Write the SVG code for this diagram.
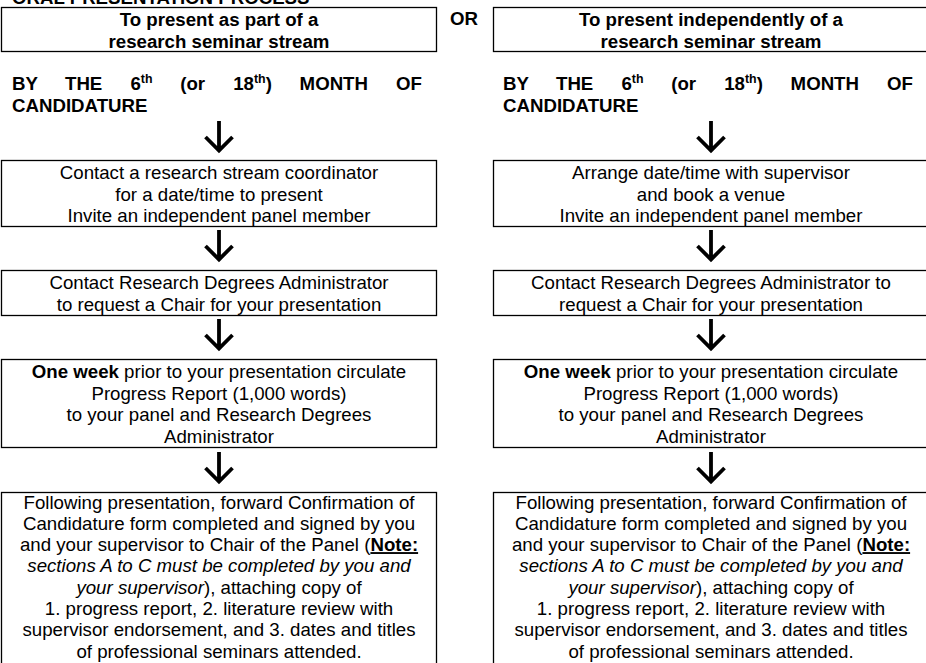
<svg xmlns="http://www.w3.org/2000/svg" width="926" height="663" viewBox="0 0 926 663">
<style>
text{font-family:"Liberation Sans",Arial,sans-serif;font-size:18.67px;fill:#000}
.c{text-anchor:middle}
.b{font-weight:bold}
.i{font-style:italic}
.u{text-decoration:underline}
.sup{font-size:12.4px;font-weight:bold}
rect.box{fill:#fff;stroke:#000;stroke-width:1.3}
.arr{fill:none;stroke:#000;stroke-width:3.8;stroke-linejoin:miter;stroke-linecap:butt}
</style>
<defs>
<g id="arrowShape"><path class="arr" d="M0,-30 V-1 M-13.5,-14 L0,-0.5 L13.5,-14"/></g>
</defs>
<rect width="926" height="663" fill="#fff"/>
<text id="title" class="b" x="12" y="3.5">ORAL PRESENTATION PROCESS</text>
<text id="or" class="b" x="450" y="25">OR</text>

<g id="left-head">
<rect class="box" x="1.5" y="7.5" width="435" height="44"/>
<text class="b c" x="219" y="26">To present as part of a</text>
<text class="b c" x="219" y="47.5">research seminar stream</text>
</g>
<g id="left-deadline">
<text class="b" x="12" y="90">BY</text>
<text class="b" x="65" y="90">THE</text>
<text class="b" x="130.4" y="90">6<tspan class="sup" dy="-7">th</tspan></text>
<text class="b" x="180.2" y="90">(or</text>
<text class="b" x="233.2" y="90">18<tspan class="sup" dy="-7">th</tspan><tspan dy="7">)</tspan></text>
<text class="b" x="299.6" y="90">MONTH</text>
<text class="b" x="396.1" y="90">OF</text>
<text class="b" x="12" y="111.5">CANDIDATURE</text>
</g>
<g id="left-step1">
<rect class="box" x="1.5" y="160.5" width="435" height="66"/>
<text class="c" x="219" y="179">Contact a research stream coordinator</text>
<text class="c" x="219" y="200.5">for a date/time to present</text>
<text class="c" x="219" y="222">Invite an independent panel member</text>
</g>
<g id="left-step2">
<rect class="box" x="1.5" y="270.5" width="435" height="45"/>
<text class="c" x="219" y="289">Contact Research Degrees Administrator</text>
<text class="c" x="219" y="310.5">to request a Chair for your presentation</text>
</g>
<g id="left-step3">
<rect class="box" x="1.5" y="359.5" width="435" height="88"/>
<text class="c" x="219" y="378"><tspan class="b">One week</tspan> prior to your presentation circulate</text>
<text class="c" x="219" y="399.5">Progress Report (1,000 words)</text>
<text class="c" x="219" y="421">to your panel and Research Degrees</text>
<text class="c" x="219" y="442.5">Administrator</text>
</g>
<g id="left-step4">
<rect class="box" x="1.5" y="492.5" width="435" height="175"/>
<text class="c" x="219" y="508.5">Following presentation, forward Confirmation of</text>
<text class="c" x="219" y="529.8">Candidature form completed and signed by you</text>
<text class="c" x="219" y="551.1">and your supervisor to Chair of the Panel (<tspan class="b u">Note:</tspan></text>
<text class="c i" x="219" y="572.4">sections A to C must be completed by you and</text>
<text class="c" x="219" y="593.7"><tspan class="i">your supervisor</tspan>), attaching copy of</text>
<text class="c" x="219" y="615">1. progress report, 2. literature review with</text>
<text class="c" x="219" y="636.3">supervisor endorsement, and 3. dates and titles</text>
<text class="c" x="219" y="657.6">of professional seminars attended.</text>
</g>

<g id="right-head">
<rect class="box" x="493.5" y="7.5" width="436" height="44"/>
<text class="b c" x="711" y="26">To present independently of a</text>
<text class="b c" x="711" y="47.5">research seminar stream</text>
</g>
<g id="right-deadline">
<text class="b" x="503" y="90">BY</text>
<text class="b" x="556" y="90">THE</text>
<text class="b" x="621.4" y="90">6<tspan class="sup" dy="-7">th</tspan></text>
<text class="b" x="671.2" y="90">(or</text>
<text class="b" x="724.2" y="90">18<tspan class="sup" dy="-7">th</tspan><tspan dy="7">)</tspan></text>
<text class="b" x="790.6" y="90">MONTH</text>
<text class="b" x="887.1" y="90">OF</text>
<text class="b" x="503" y="111.5">CANDIDATURE</text>
</g>
<g id="right-step1">
<rect class="box" x="493.5" y="160.5" width="436" height="66"/>
<text class="c" x="711" y="179">Arrange date/time with supervisor</text>
<text class="c" x="711" y="200.5">and book a venue</text>
<text class="c" x="711" y="222">Invite an independent panel member</text>
</g>
<g id="right-step2">
<rect class="box" x="493.5" y="270.5" width="436" height="45"/>
<text class="c" x="711" y="289">Contact Research Degrees Administrator to</text>
<text class="c" x="711" y="310.5">request a Chair for your presentation</text>
</g>
<g id="right-step3">
<rect class="box" x="493.5" y="359.5" width="436" height="88"/>
<text class="c" x="711" y="378"><tspan class="b">One week</tspan> prior to your presentation circulate</text>
<text class="c" x="711" y="399.5">Progress Report (1,000 words)</text>
<text class="c" x="711" y="421">to your panel and Research Degrees</text>
<text class="c" x="711" y="442.5">Administrator</text>
</g>
<g id="right-step4">
<rect class="box" x="493.5" y="492.5" width="436" height="175"/>
<text class="c" x="711" y="508.5">Following presentation, forward Confirmation of</text>
<text class="c" x="711" y="529.8">Candidature form completed and signed by you</text>
<text class="c" x="711" y="551.1">and your supervisor to Chair of the Panel (<tspan class="b u">Note:</tspan></text>
<text class="c i" x="711" y="572.4">sections A to C must be completed by you and</text>
<text class="c" x="711" y="593.7"><tspan class="i">your supervisor</tspan>), attaching copy of</text>
<text class="c" x="711" y="615">1. progress report, 2. literature review with</text>
<text class="c" x="711" y="636.3">supervisor endorsement, and 3. dates and titles</text>
<text class="c" x="711" y="657.6">of professional seminars attended.</text>
</g>

<g id="connectors">
<use href="#arrowShape" x="219" y="151"/>
<use href="#arrowShape" x="219" y="260"/>
<use href="#arrowShape" x="219" y="349"/>
<use href="#arrowShape" x="219" y="482"/>
<use href="#arrowShape" x="711" y="151"/>
<use href="#arrowShape" x="711" y="260"/>
<use href="#arrowShape" x="711" y="349"/>
<use href="#arrowShape" x="711" y="482"/>
</g>
</svg>
